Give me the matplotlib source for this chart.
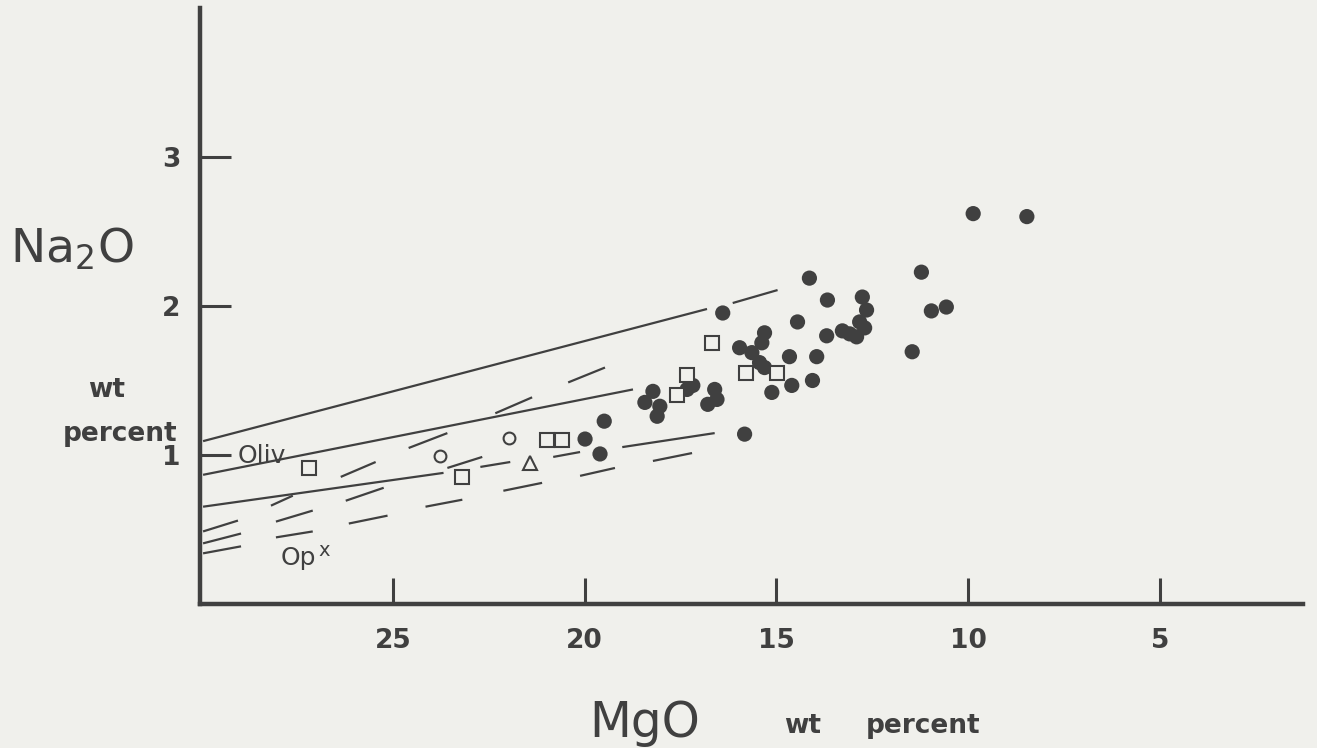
import numpy as np
from matplotlib import pyplot as plt

# filled circles (MgO, Na2O)
dots_mgo = [19.99, 19.49, 19.60, 18.22, 18.43, 18.04, 18.11, 17.33, 17.18, 16.61,
            16.55, 16.79, 15.83, 15.12, 14.60, 14.66, 14.06, 13.95, 16.40, 15.31,
            15.38, 15.96, 15.64, 15.44, 15.31, 14.14, 13.67, 14.45, 13.69, 12.76,
            12.65, 12.83, 12.70, 12.91, 13.28, 13.09, 11.22, 10.96, 10.57, 11.46,
            9.87, 8.47]
dots_na2o = [1.107, 1.227, 1.007, 1.427, 1.353, 1.327, 1.26, 1.44, 1.467, 1.44,
             1.373, 1.34, 1.14, 1.42, 1.467, 1.66, 1.50, 1.66, 1.953, 1.82,
             1.753, 1.72, 1.687, 1.62, 1.587, 2.187, 2.04, 1.893, 1.80, 2.06,
             1.973, 1.893, 1.853, 1.793, 1.833, 1.813, 2.227, 1.967, 1.993, 1.693,
             2.62, 2.60]

# open squares
sq_mgo = [27.19, 23.19, 20.98, 20.59, 16.68, 17.33, 17.59, 15.80, 14.99]
sq_na2o = [0.913, 0.853, 1.10, 1.10, 1.753, 1.54, 1.40, 1.547, 1.553]

# open circles
circ_mgo = [23.78, 21.96]
circ_na2o = [0.993, 1.113]

# triangle
tri_mgo = [21.42]
tri_na2o = [0.947]

# solid (olivine) lines, each a list of pieces [(x0, y0), (x1, y1)]
solid_lines = [
    [[(29.95, 1.093), (16.81, 1.98)], [(16.14, 2.02), (14.97, 2.107)]],
    [[(29.95, 0.867), (18.74, 1.44)]],
    [[(29.95, 0.653), (23.68, 0.88)], [(22.72, 0.92), (21.94, 0.953)],
     [(20.82, 0.987), (20.12, 1.02)], [(19.02, 1.053), (16.61, 1.147)]],
]

# dashed (opx) lines, each dash given by its ends
dashed_lines = [
    [[(29.95, 0.487), (29.04, 0.56)], [(28.18, 0.66), (27.61, 0.727)],
     [(26.36, 0.853), (25.45, 0.953)], [(24.59, 1.047), (23.58, 1.147)],
     [(22.33, 1.28), (21.37, 1.387)], [(20.43, 1.487), (19.47, 1.587)]],
    [[(29.95, 0.407), (28.96, 0.473)], [(28.05, 0.553), (27.09, 0.627)],
     [(26.23, 0.693), (25.24, 0.78)], [(23.58, 0.913), (22.67, 0.987)]],
    [[(29.95, 0.34), (28.96, 0.387)], [(28.05, 0.447), (27.09, 0.487)],
     [(26.15, 0.54), (25.14, 0.593)], [(24.15, 0.653), (23.19, 0.70)],
     [(22.12, 0.76), (21.11, 0.813)], [(20.12, 0.86), (19.21, 0.913)],
     [(18.22, 0.96), (17.20, 1.013)]],
]

x_ticks = [25, 20, 15, 10, 5]
y_ticks = [1, 2, 3]

ink = '#404040'
paper = '#f0f0ec'
W, H = 1317, 748

fig = plt.figure(figsize=(W / 100, H / 100), dpi=100, facecolor=paper)
ax = fig.add_axes([200 / W, 1 - 604 / H, 1103 / W, 596 / H], facecolor=paper)

for line in solid_lines + dashed_lines:
    for (x0, y0), (x1, y1) in line:
        ax.plot([x0, x1], [y0, y1], color=ink, lw=1.6, solid_capstyle='butt')

ax.scatter(dots_mgo, dots_na2o, s=120, color=ink, edgecolors='none', zorder=3)
ax.plot(sq_mgo, sq_na2o, 's', ms=9.5, mfc=paper, mec=ink, mew=1.5, ls='none', zorder=4)
ax.plot(circ_mgo, circ_na2o, 'o', ms=8.5, mfc=paper, mec=ink, mew=1.5, ls='none', zorder=4)
ax.plot(tri_mgo, tri_na2o, '^', ms=10, mfc=paper, mec=ink, mew=1.5, ls='none', zorder=4)

ax.set_xlim(30.03, 1.27)
ax.set_ylim(0, 4)
ax.spines[['top', 'right']].set_visible(False)
for side in ['left', 'bottom']:
    ax.spines[side].set_linewidth(3.2)
    ax.spines[side].set_color(ink)
ax.set_xticks(x_ticks)
ax.set_yticks(y_ticks)
ax.set_xticklabels([str(t) for t in x_ticks], fontsize=19, fontweight='bold', color=ink)
ax.set_yticklabels([str(t) for t in y_ticks], fontsize=19, fontweight='bold', color=ink)
ax.tick_params(axis='x', direction='in', length=19, width=2.2, color=ink, pad=17)
ax.tick_params(axis='y', direction='in', length=22, width=2.2, color=ink, pad=14)

# labels, placed in figure pixels
def put(px, py, s, **kw):
    fig.text(px / W, 1 - py / H, s, color=ink, va='baseline', **kw)

put(10, 263, 'Na$_\\mathregular{2}$O', fontsize=34)
put(107, 397, 'wt', fontsize=19, fontweight='bold', ha='center')
put(177, 441, 'percent', fontsize=19, fontweight='bold', ha='right')
put(238, 463, 'Oliv', fontsize=18)
put(281, 565, 'Op', fontsize=18)
put(318, 556, 'x', fontsize=14)
put(589, 737, 'MgO', fontsize=35)
put(784, 733, 'wt', fontsize=19, fontweight='bold')
put(866, 733, 'percent', fontsize=19, fontweight='bold')

fig.savefig('out.png', dpi=100, facecolor=paper)
